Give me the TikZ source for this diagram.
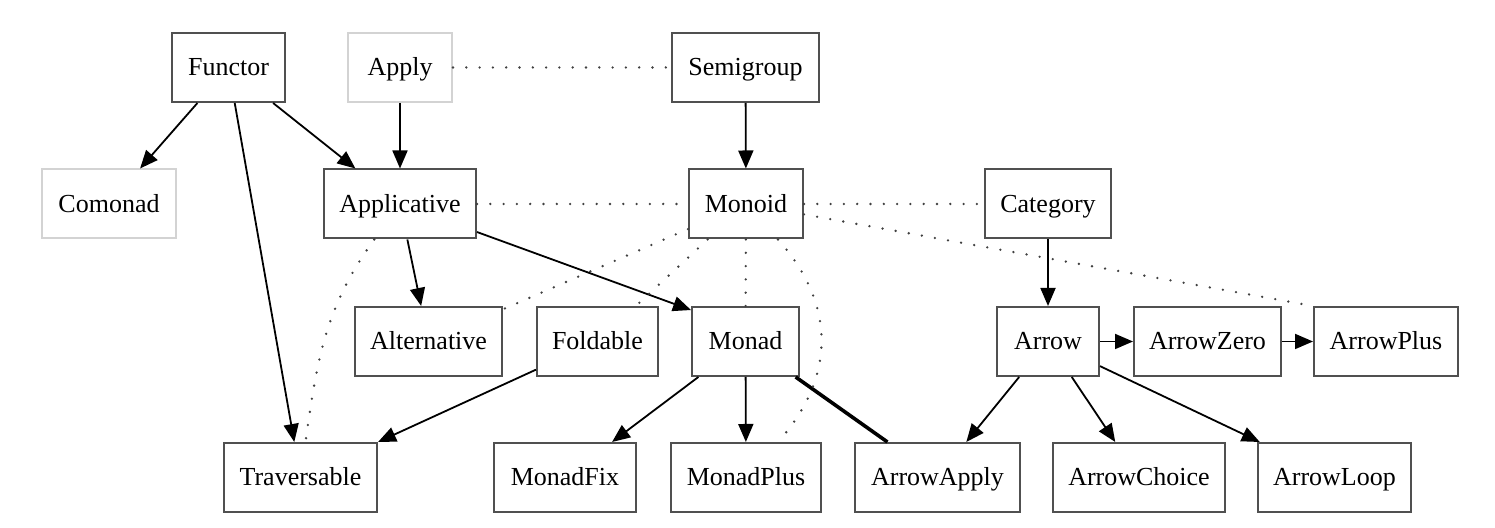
\documentclass[tikz,border=0pt]{standalone}
\usepackage{fontspec}
\setmainfont{Liberation Serif}
\usetikzlibrary{arrows.meta}
\definecolor{boxgray}{HTML}{505050}
\definecolor{lightbox}{HTML}{D3D3D3}
\definecolor{dotgray}{HTML}{404040}
\def\RowA{460.5}
\def\RowB{324}
\def\RowC{186.5}
\def\RowD{50.5}
\def\BoxHeight{69}

\begin{document}
\begin{tikzpicture}[x=0.5pt,y=0.5pt,
  cls/.style={draw=boxgray, line width=1pt, minimum height=\BoxHeight*0.5pt,
    inner sep=0pt, text height=11pt, text depth=2.5pt, font=\fontsize{13}{15}\selectfont},
  ghost/.style={cls, draw=lightbox},
  boxwidth/.style={minimum width=#1*0.5pt},
  sub/.style={draw=black, line width=0.9pt, -{Triangle[length=9pt,width=7.5pt]}},
  rel/.style={draw=dotgray, line width=1.3pt, line cap=round, dash pattern=on 0pt off 6.65pt},
  equiv/.style={draw=black, line width=1.8pt}]
  \useasboundingbox (0,0) rectangle (1495,528);
  % row 1
  \node[cls, boxwidth=113] (functor) at (228.5,\RowA) {Functor};
  \node[ghost, boxwidth=104] (apply) at (400,\RowA) {Apply};
  \node[cls, boxwidth=147] (semigroup) at (745.5,\RowA) {Semigroup};
  % row 2
  \node[ghost, boxwidth=134] (comonad) at (109,\RowB) {Comonad};
  \node[cls, boxwidth=152] (applicative) at (400,\RowB) {Applicative};
  \node[cls, boxwidth=114] (monoid) at (746,\RowB) {Monoid};
  \node[cls, boxwidth=126] (category) at (1048,\RowB) {Category};
  % row 3
  \node[cls, boxwidth=147] (alternative) at (428.5,\RowC) {Alternative};
  \node[cls, boxwidth=121] (foldable) at (597.5,\RowC) {Foldable};
  \node[cls, boxwidth=107] (monad) at (745.5,\RowC) {Monad};
  \node[cls, boxwidth=102] (arrow) at (1048,\RowC) {Arrow};
  \node[cls, boxwidth=147] (arrowzero) at (1207.5,\RowC) {ArrowZero};
  \node[cls, boxwidth=144] (arrowplus) at (1386,\RowC) {ArrowPlus};
  % row 4
  \node[cls, boxwidth=153] (traversable) at (300.5,\RowD) {Traversable};
  \node[cls, boxwidth=142] (monadfix) at (565,\RowD) {MonadFix};
  \node[cls, boxwidth=150] (monadplus) at (746,\RowD) {MonadPlus};
  \node[cls, boxwidth=165] (arrowapply) at (937.5,\RowD) {ArrowApply};
  \node[cls, boxwidth=172] (arrowchoice) at (1139,\RowD) {ArrowChoice};
  \node[cls, boxwidth=153] (arrowloop) at (1334.5,\RowD) {ArrowLoop};
  % superclass arrows
  \foreach \child in {comonad,applicative,traversable}
    \draw[sub] (functor) -- (\child);
  \draw[sub] (apply) -- (applicative);
  \draw[sub] (semigroup) -- (monoid);
  \draw[sub] (applicative) -- (alternative);
  \draw[sub] (applicative) -- (monad.150);
  \draw[sub] (foldable) -- (traversable);
  \foreach \child in {monadfix,monadplus}
    \draw[sub] (monad) -- (\child);
  \draw[sub] (category) -- (arrow);
  \draw[sub] (arrow) -- (arrowzero);
  \draw[sub] (arrowzero) -- (arrowplus);
  \foreach \child in {arrowapply,arrowchoice,arrowloop}
    \draw[sub] (arrow) -- (\child);
  % monad and arrowapply
  \draw[equiv] (monad) -- (arrowapply);
  % related classes
  \draw[rel] (apply) -- (semigroup);
  \draw[rel] (applicative) -- (monoid);
  \draw[rel] (monoid) -- (category);
  \foreach \other in {alternative,foldable,monad}
    \draw[rel] (monoid) -- (\other);
  \draw[rel] (monoid) to[out=-48,in=48,looseness=1.1] (monadplus);
  \draw[rel] (monoid) -- (arrowplus.north west);
  \draw[rel] (applicative) to[out=-126,in=82] (traversable);
\end{tikzpicture}
\end{document}
